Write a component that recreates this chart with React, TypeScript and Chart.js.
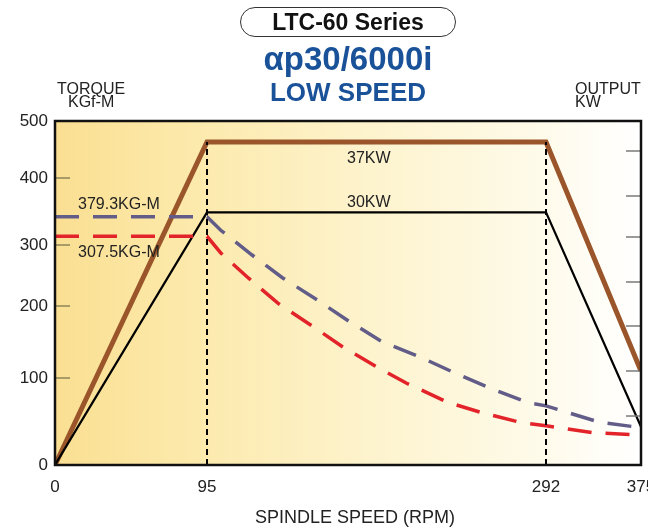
import React, { useEffect, useRef } from 'react';
import { Chart, registerables, LinearScale } from 'chart.js';

Chart.register(...registerables);

// ---- axes ----
const speedTicks = [0, 95, 292, 375];
const speedAxisBreaks = [0, 95, 292, 375];
const speedAxisFractions = [0, 0.2594, 0.8379, 1];

const torqueTicks = [0, 100, 200, 300, 400, 500];
const torqueAxisBreaks = [0, 100, 200, 300, 400, 500];
const torqueAxisFractions = [0, 0.2529, 0.4622, 0.6395, 0.8343, 1];

const outputTicks = [5, 10, 15, 20, 25, 30, 35];
const outputAxisBreaks = [0, 5, 10, 15, 20, 25, 30, 35, 40];
const outputAxisFractions = [0, 0.1424, 0.2733, 0.4041, 0.532, 0.6628, 0.782, 0.9128, 1];

// ---- output (kW) ----
const powerSpeeds = [0, 95, 292, 375];
const power37kw = [0, 36.5, 36.5, 10];
const power30kw = [0, 28, 28, 3.9];

// ---- base speed markers ----
const baseSpeeds = [95, 292];
const baseMarkerRange = [0, 36.5];

// ---- torque (KGf-M) ----
const torque379Speeds = [0, 95, 103, 121, 139, 159, 178, 197, 219, 239, 260, 281, 292, 339, 375];
const torque379 = [342, 342, 322, 284, 246, 210, 178, 150, 129, 107, 88, 72, 68, 49, 43];
const torque307Speeds = [0, 95, 103, 119, 136, 155, 174, 194, 211, 235, 255, 277, 292, 333, 368, 375];
const torque307 = [313, 313, 287, 246, 205, 174, 143, 115, 94, 72, 60, 49, 45, 37, 35, 34];

function interp(xs: number[], ys: number[], v: number): number {
  const n = xs.length - 1;
  if (v <= xs[0]) return ys[0] + ((v - xs[0]) * (ys[1] - ys[0])) / (xs[1] - xs[0]);
  for (let i = 1; i <= n; i++) {
    if (v <= xs[i]) {
      const t = (v - xs[i - 1]) / (xs[i] - xs[i - 1]);
      return ys[i - 1] + t * (ys[i] - ys[i - 1]);
    }
  }
  return ys[n] + ((v - xs[n]) * (ys[n] - ys[n - 1])) / (xs[n] - xs[n - 1]);
}

class BrokenLinearScale extends LinearScale {
  static id = 'brokenLinear';
  static defaults = {};
  getPixelForValue(value: any) {
    if (value === null || value === undefined || Number.isNaN(+value)) return NaN;
    const o: any = this.options;
    return this.getPixelForDecimal(interp(o.breaks, o.fractions, +value));
  }
  getValueForPixel(pixel: number) {
    const o: any = this.options;
    return interp(o.fractions, o.breaks, this.getDecimalForPixel(pixel));
  }
}
Chart.register(BrokenLinearScale as any);

const toPoints = (xs: number[], ys: number[]) => xs.map((x, i) => ({ x, y: ys[i] }));

const decor = {
  id: 'decor',
  beforeDraw(chart: any) {
    const { ctx, chartArea: a } = chart;
    const g = ctx.createLinearGradient(a.left, 0, a.right, 0);
    g.addColorStop(0, '#FADF92');
    g.addColorStop(0.22, '#FCE9AA');
    g.addColorStop(0.5, '#FDF2C9');
    g.addColorStop(0.8, '#FEFAE7');
    g.addColorStop(1, '#FFFFFF');
    ctx.save();
    ctx.fillStyle = g;
    ctx.fillRect(a.left, a.top, a.width, a.height);
    ctx.restore();
  },
  afterDatasetsDraw(chart: any) {
    const { ctx, chartArea: a } = chart;
    ctx.save();
    const y = chart.scales.y;
    ctx.strokeStyle = '#8C8458';
    ctx.lineWidth = 1.5;
    y.ticks.forEach((_t: any, i: number) => {
      const p = y.getPixelForTick(i);
      if (p <= a.top + 2 || p >= a.bottom - 2) return;
      ctx.beginPath();
      ctx.moveTo(a.left, p);
      ctx.lineTo(a.left + 15, p);
      ctx.stroke();
    });
    const y2 = chart.scales.y2;
    ctx.strokeStyle = '#7A7A7A';
    y2.ticks.forEach((_t: any, i: number) => {
      const p = y2.getPixelForTick(i);
      ctx.beginPath();
      ctx.moveTo(a.right - 15, p);
      ctx.lineTo(a.right, p);
      ctx.stroke();
    });
    ctx.strokeStyle = '#111';
    ctx.lineWidth = 2.5;
    ctx.strokeRect(a.left, a.top, a.width, a.height);
    ctx.restore();
  },
};

const txt = (s: React.CSSProperties): React.CSSProperties => ({
  position: 'absolute',
  margin: 0,
  lineHeight: 1,
  whiteSpace: 'nowrap',
  fontFamily: '"Liberation Sans", Arial, Helvetica, sans-serif',
  color: '#222',
  ...s,
});

export default function App() {
  const ref = useRef<HTMLCanvasElement | null>(null);

  useEffect(() => {
    if (!ref.current) return;
    Chart.defaults.font.family = '"Liberation Sans", Arial, Helvetica, sans-serif';
    const tickFont = { size: 17 };
    const chart = new Chart(ref.current, {
      type: 'scatter',
      data: {
        datasets: [
          ...baseSpeeds.map((s) => ({
            label: 'base ' + s,
            data: baseMarkerRange.map((v) => ({ x: s, y: v })),
            yAxisID: 'y2',
            showLine: true,
            borderColor: '#000',
            borderWidth: 2,
            borderDash: [6, 4],
            pointRadius: 0,
          })),
          {
            label: '379.3KG-M',
            data: toPoints(torque379Speeds, torque379),
            yAxisID: 'y',
            showLine: true,
            borderColor: '#625D88',
            borderWidth: 3.5,
            borderDash: [24, 14],
            pointRadius: 0,
          },
          {
            label: '307.5KG-M',
            data: toPoints(torque307Speeds, torque307),
            yAxisID: 'y',
            showLine: true,
            borderColor: '#E2242A',
            borderWidth: 3.5,
            borderDash: [24, 14],
            pointRadius: 0,
          },
          {
            label: '30KW',
            data: toPoints(powerSpeeds, power30kw),
            yAxisID: 'y2',
            showLine: true,
            borderColor: '#000',
            borderWidth: 2.2,
            pointRadius: 0,
          },
          {
            label: '37KW',
            data: toPoints(powerSpeeds, power37kw),
            yAxisID: 'y2',
            showLine: true,
            borderColor: '#9A562A',
            borderWidth: 5,
            borderJoinStyle: 'miter',
            pointRadius: 0,
          },
        ] as any,
      },
      options: {
        animation: false,
        responsive: true,
        maintainAspectRatio: false,
        layout: { padding: { top: 121, left: 0, right: 0, bottom: 0 } },
        plugins: { legend: { display: false }, tooltip: { enabled: false }, title: { display: false } },
        scales: {
          x: {
            type: 'brokenLinear',
            breaks: speedAxisBreaks,
            fractions: speedAxisFractions,
            min: 0,
            max: 375,
            afterBuildTicks: (s: any) => {
              s.ticks = speedTicks.map((value) => ({ value }));
            },
            afterFit: (s: any) => {
              s.height = 67;
              s.paddingLeft = 0;
              s.paddingRight = 0;
            },
            grid: { display: false, drawTicks: false },
            border: { display: false },
            ticks: {
              autoSkip: false,
              maxRotation: 0,
              minRotation: 0,
              padding: 12,
              color: '#222',
              font: tickFont,
              callback: (v: any) => String(v),
            },
          },
          y: {
            type: 'brokenLinear',
            position: 'left',
            breaks: torqueAxisBreaks,
            fractions: torqueAxisFractions,
            min: 0,
            max: 500,
            afterBuildTicks: (s: any) => {
              s.ticks = torqueTicks.map((value) => ({ value }));
            },
            afterFit: (s: any) => {
              s.width = 55;
              s.paddingTop = 0;
              s.paddingBottom = 0;
            },
            grid: { display: false, drawTicks: false },
            border: { display: false },
            ticks: { padding: 7, color: '#222', font: tickFont, callback: (v: any) => String(v) },
          },
          y2: {
            type: 'brokenLinear',
            position: 'right',
            breaks: outputAxisBreaks,
            fractions: outputAxisFractions,
            min: 0,
            max: 40,
            afterBuildTicks: (s: any) => {
              s.ticks = outputTicks.map((value) => ({ value }));
            },
            afterFit: (s: any) => {
              s.width = 7;
              s.paddingTop = 0;
              s.paddingBottom = 0;
            },
            grid: { display: false, drawTicks: false },
            border: { display: false },
            ticks: { display: false },
          },
        } as any,
      },
      plugins: [decor],
    });
    return () => chart.destroy();
  }, []);

  const blue = '#1A5299';
  return (
    <div style={{ position: 'fixed', left: 0, top: 0, width: 648, height: 532, background: '#fff', overflow: 'hidden' }}>
      <canvas ref={ref} style={{ position: 'absolute', left: 0, top: 0, width: 648, height: 532 }} />
      <div
        style={{
          position: 'absolute',
          left: 240,
          top: 7,
          width: 216,
          height: 30,
          border: '1.5px solid #333',
          borderRadius: 15,
          boxSizing: 'border-box',
          display: 'flex',
          alignItems: 'center',
          justifyContent: 'center',
          fontFamily: '"Liberation Sans", Arial, Helvetica, sans-serif',
          fontWeight: 700,
          fontSize: 23,
          color: '#111',
        }}
      >
        LTC-60 Series
      </div>
      <div style={txt({ left: 0, width: 696, textAlign: 'center', top: 42, fontSize: 33, fontWeight: 700, color: blue })}>αp30/6000i</div>
      <div style={txt({ left: 0, width: 696, textAlign: 'center', top: 79, fontSize: 26, fontWeight: 700, color: blue })}>LOW SPEED</div>
      <div style={txt({ left: 57, top: 81, fontSize: 16 })}>TORQUE</div>
      <div style={txt({ left: 68, top: 94, fontSize: 16 })}>KGf-M</div>
      <div style={txt({ left: 575, top: 81, fontSize: 16 })}>OUTPUT</div>
      <div style={txt({ left: 575, top: 94, fontSize: 16 })}>KW</div>
      <div style={txt({ left: 78, top: 196, fontSize: 16 })}>379.3KG-M</div>
      <div style={txt({ left: 78, top: 244, fontSize: 16 })}>307.5KG-M</div>
      <div style={txt({ left: 347, top: 150, fontSize: 16 })}>37KW</div>
      <div style={txt({ left: 347, top: 194, fontSize: 16 })}>30KW</div>
      <div style={txt({ left: 255, top: 508, fontSize: 18 })}>SPINDLE SPEED (RPM)</div>
    </div>
  );
}
